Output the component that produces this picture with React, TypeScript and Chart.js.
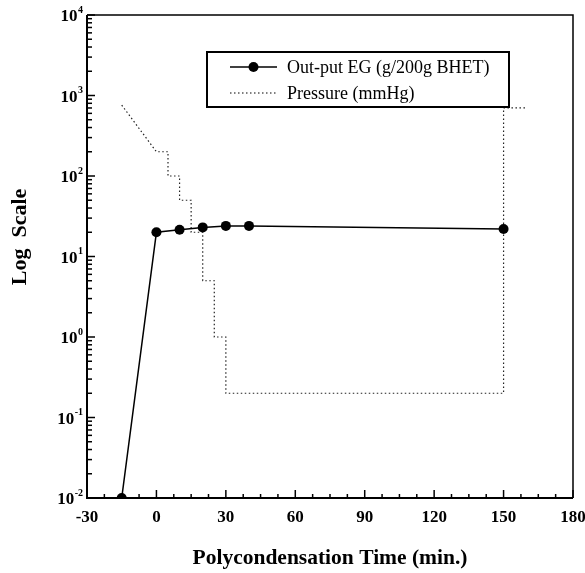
import React, { useEffect, useRef } from "react";
import { Chart, registerables } from "chart.js";

Chart.register(...registerables);

// ---- data ----
const egTimes = [-15, 0, 10, 20, 30, 40, 150];
const egValues = [0.01, 20, 21.5, 23, 24, 24, 22];
const pressureTimes = [-15, 0, 5, 5, 10, 10, 15, 15, 20, 20, 25, 25, 30, 30, 150, 150, 160];
const pressureValues = [760, 200, 200, 100, 100, 50, 50, 20, 20, 5, 5, 1, 1, 0.2, 0.2, 700, 700];
const xTicks = [-30, 0, 30, 60, 90, 120, 150, 180];
const yTicks = [0.01, 0.1, 1, 10, 100, 1000, 10000];
const seriesLabels = ["Out-put EG (g/200g BHET)", "Pressure (mmHg)"];
const xTitle = "Polycondensation Time (min.)";
const yTitle = "Log  Scale";

const FAMILY = "'Liberation Serif', 'Times New Roman', serif";

const decorPlugin = {
  id: "decor",
  afterDraw(chart: any) {
    const { ctx, chartArea: a, scales } = chart;
    const x = scales.x;
    const y = scales.y;
    ctx.save();
    ctx.strokeStyle = "#000";
    ctx.lineCap = "butt";
    // frame
    ctx.lineWidth = 1.5;
    ctx.beginPath();
    ctx.moveTo(a.left, a.top);
    ctx.lineTo(a.right, a.top);
    ctx.lineTo(a.right, a.bottom);
    ctx.stroke();
    ctx.lineWidth = 2;
    ctx.beginPath();
    ctx.moveTo(a.left, a.top);
    ctx.lineTo(a.left, a.bottom);
    ctx.lineTo(a.right, a.bottom);
    ctx.stroke();
    // y inward ticks (major decades + minor 2..9) and power-of-ten labels
    ctx.lineWidth = 1.5;
    ctx.fillStyle = "#000";
    yTicks.forEach((base, i) => {
      const py = y.getPixelForValue(base);
      ctx.beginPath();
      ctx.moveTo(a.left, py);
      ctx.lineTo(a.left + 8, py);
      ctx.stroke();
      if (i < yTicks.length - 1) {
        for (let k = 2; k <= 9; k++) {
          const pm = y.getPixelForValue(base * k);
          ctx.beginPath();
          ctx.moveTo(a.left, pm);
          ctx.lineTo(a.left + 5, pm);
          ctx.stroke();
        }
      }
      const exp = String(Math.round(Math.log10(base)));
      ctx.font = `bold 10px ${FAMILY}`;
      ctx.textAlign = "left";
      ctx.textBaseline = "middle";
      const ew = ctx.measureText(exp).width;
      const expX = a.left - 4 - ew;
      ctx.fillText(exp, expX, py - 5);
      ctx.font = `bold 17px ${FAMILY}`;
      ctx.textAlign = "right";
      ctx.fillText("10", expX - 0.5, py + 2);
    });
    // x inward ticks
    for (let i = 0; i < xTicks.length; i++) {
      const v = xTicks[i];
      const px = x.getPixelForValue(v);
      ctx.beginPath();
      ctx.moveTo(px, a.bottom);
      ctx.lineTo(px, a.bottom - 8);
      ctx.stroke();
      if (i < xTicks.length - 1) {
        const step = (xTicks[i + 1] - v) / 4;
        for (let k = 1; k < 4; k++) {
          const pm = x.getPixelForValue(v + step * k);
          ctx.beginPath();
          ctx.moveTo(pm, a.bottom);
          ctx.lineTo(pm, a.bottom - 4);
          ctx.stroke();
        }
      }
    }
    // legend box
    const bx = 207, by = 52, bw = 302, bh = 55;
    ctx.fillStyle = "#fff";
    ctx.fillRect(bx, by, bw, bh);
    ctx.lineWidth = 2;
    ctx.strokeRect(bx, by, bw, bh);
    const ds = chart.data.datasets;
    const rows = [67, 93];
    ctx.lineWidth = 1.5;
    ctx.beginPath();
    ctx.moveTo(230, rows[0]);
    ctx.lineTo(277, rows[0]);
    ctx.stroke();
    ctx.fillStyle = "#000";
    ctx.beginPath();
    ctx.arc(253.5, rows[0], 5, 0, Math.PI * 2);
    ctx.fill();
    ctx.lineWidth = 1.2;
    ctx.setLineDash([1.5, 2.5]);
    ctx.beginPath();
    ctx.moveTo(230, rows[1]);
    ctx.lineTo(277, rows[1]);
    ctx.stroke();
    ctx.setLineDash([]);
    ctx.font = `18px ${FAMILY}`;
    ctx.textAlign = "left";
    ctx.textBaseline = "middle";
    ctx.fillStyle = "#000";
    ctx.fillText(ds[0].label, 287, rows[0] + 1);
    ctx.fillText(ds[1].label, 287, rows[1] + 1);
    // y title
    ctx.translate(20, 237);
    ctx.rotate(-Math.PI / 2);
    ctx.font = `bold 22px ${FAMILY}`;
    ctx.textAlign = "center";
    ctx.textBaseline = "middle";
    ctx.fillText(yTitle, 0, 0);
    ctx.restore();
  },
};

export default function App() {
  const ref = useRef<HTMLCanvasElement | null>(null);
  useEffect(() => {
    if (!ref.current) return;
    const chart = new Chart(ref.current, {
      type: "line",
      data: {
        datasets: [
          {
            label: seriesLabels[0],
            data: egTimes.map((t, i) => ({ x: t, y: egValues[i] })),
            borderColor: "#000",
            backgroundColor: "#000",
            borderWidth: 1.5,
            pointRadius: 5,
            pointBackgroundColor: "#000",
            pointBorderWidth: 0,
            tension: 0,
            clip: 0,
          },
          {
            label: seriesLabels[1],
            data: pressureTimes.map((t, i) => ({ x: t, y: pressureValues[i] })),
            borderColor: "#222",
            borderWidth: 1.2,
            borderDash: [1.5, 2.5],
            pointRadius: 0,
            tension: 0,
            clip: 0,
          },
        ],
      } as any,
      options: {
        animation: false,
        responsive: false,
        maintainAspectRatio: false,
        devicePixelRatio: 1,
        layout: { padding: { top: 15, right: 12, left: 0, bottom: 0 } },
        plugins: { legend: { display: false }, tooltip: { enabled: false } },
        scales: {
          x: {
            type: "linear",
            min: -30,
            max: 180,
            afterBuildTicks: (s: any) => {
              s.ticks = xTicks.map((v) => ({ value: v }));
            },
            ticks: {
              font: { family: FAMILY, size: 17, weight: "bold" },
              color: "#000",
              padding: 9,
              maxRotation: 0,
              autoSkip: false,
            },
            grid: { display: false, drawTicks: false },
            border: { display: false },
            title: {
              display: true,
              text: xTitle,
              font: { family: FAMILY, size: 21.5, weight: "bold" },
              color: "#000",
              padding: { top: 0, bottom: 2 },
            },
            afterFit: (s: any) => {
              s.height = 75;
              s.paddingLeft = 0;
              s.paddingRight = 0;
            },
          },
          y: {
            type: "logarithmic",
            min: 0.01,
            max: 10000,
            afterBuildTicks: (s: any) => {
              s.ticks = yTicks.map((v) => ({ value: v, major: true }));
            },
            ticks: { display: false },
            grid: { display: false, drawTicks: false },
            border: { display: false },
            afterFit: (s: any) => {
              s.width = 87;
              s.paddingTop = 0;
              s.paddingBottom = 0;
            },
          },
        },
      } as any,
      plugins: [decorPlugin],
    });
    return () => chart.destroy();
  }, []);
  return (
    <div style={{ position: "fixed", left: 0, top: 0, width: 585, height: 573, background: "#fff" }}>
      <canvas ref={ref} width={585} height={573} style={{ display: "block" }} />
    </div>
  );
}
